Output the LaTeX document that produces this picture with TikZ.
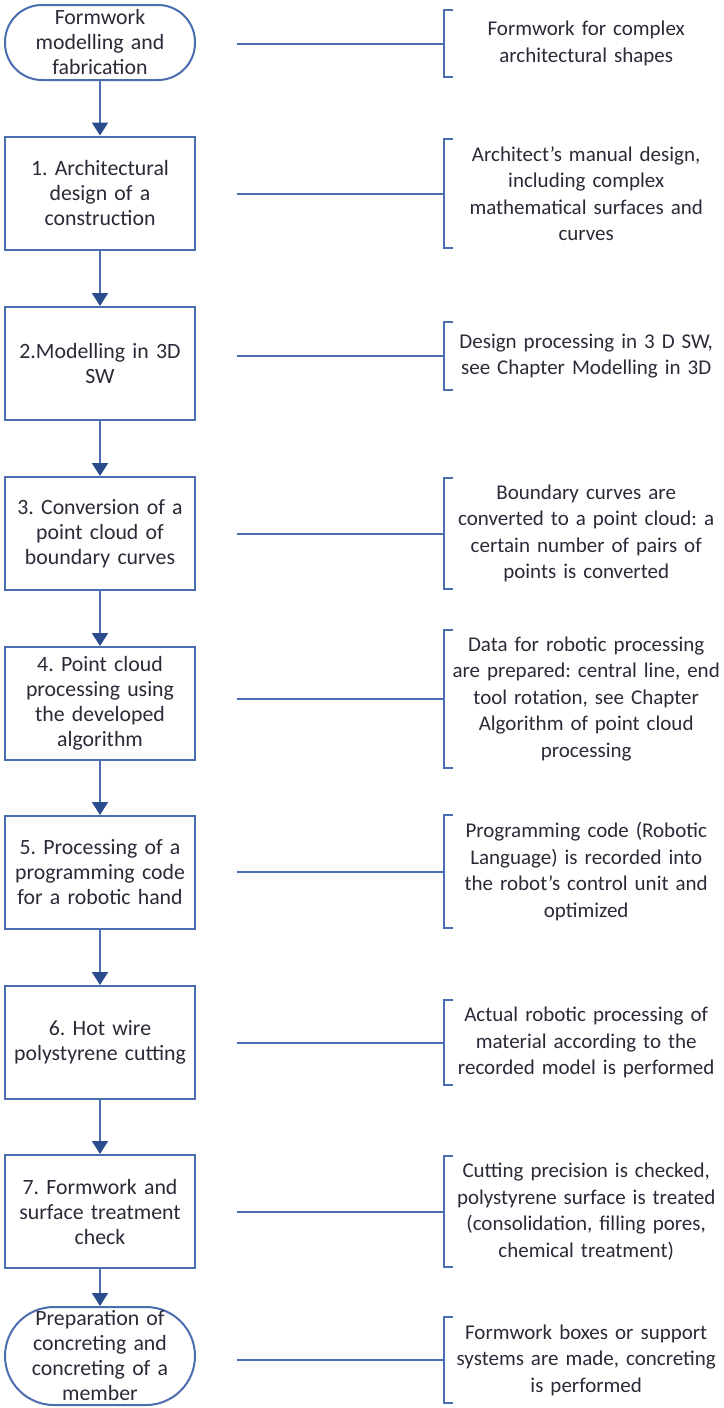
\documentclass[tikz,border=0pt]{standalone}
\usepackage{fontspec}
\setmainfont{Carlito}
\usetikzlibrary{arrows.meta}
\frenchspacing

\definecolor{boxblue}{HTML}{4A6EB0}
\definecolor{tipblue}{HTML}{2B4C8C}
\definecolor{txtgray}{HTML}{2A2A38}

\tikzset{
  stepbox/.style={draw=boxblue, line width=2pt, fill=white, minimum width=190pt,
    minimum height=113pt, inner sep=0pt, text width=184pt, align=center,
    font=\fontsize{21.8}{25}\selectfont, text=txtgray},
  termbox/.style={stepbox, rounded corners=37pt, minimum height=75pt},
  note/.style={anchor=west, inner xsep=1pt, inner ysep=7pt, minimum height=67pt,
    text width=282pt, align=center, font=\fontsize{21}{26.5}\selectfont, text=txtgray},
  flow/.style={draw=boxblue, line width=2pt, -{Triangle[width=16pt,length=13pt,color=tipblue]}},
  link/.style={draw=boxblue, line width=2pt},
}

\begin{document}
\begin{tikzpicture}[x=1pt, y=-1pt]
\useasboundingbox (0,0) rectangle (723,1408);

% process steps
\node[termbox] (start) at (100,42.5) {Formwork\\ modelling and\\ fabrication};
\node[stepbox] (b1) at (100,193) {1. Architectural\\ design of a\\ construction};
\node[stepbox] (b2) at (100,363.5) {2.Modelling in 3D\\ SW\\[-6pt]};
\node[stepbox] (b3) at (100,533.5) {3. Conversion of a\\ point cloud of\\ boundary curves};
\node[stepbox] (b4) at (100,703.5) {4. Point cloud\\ processing using\\ the developed\\ algorithm};
\node[stepbox] (b5) at (100,872.5) {5. Processing of a\\ programming code\\ for a robotic hand};
\node[stepbox] (b6) at (100,1042.5) {6. Hot wire\\ polystyrene cutting};
\node[stepbox] (b7) at (100,1211.5) {7. Formwork and\\ surface treatment\\ check};
\node[termbox, rounded corners=49pt, minimum height=98pt] (fin) at (100,1356)
  {Preparation of\\ concreting and\\ concreting of a\\ member};

% descriptions
\node[note] (n0) at (444,43.5) {Formwork for complex\\ architectural shapes};
\node[note] (n1) at (444,193.5) {Architect's manual design,\\ including complex\\ mathematical surfaces and\\ curves};
\node[note] (n2) at (444,356) {Design processing in 3 D SW,\\ see Chapter Modelling in 3D};
\node[note] (n3) at (444,533.5) {Boundary curves are\\ converted to a point cloud: a\\ certain number of pairs of\\ points is converted};
\node[note] (n4) at (444,699) {Data for robotic processing\\ are prepared: central line, end\\ tool rotation, see Chapter\\ Algorithm of point cloud\\ processing};
\node[note] (n5) at (444,871.5) {Programming code (Robotic\\ Language) is recorded into\\ the robot's control unit and\\ optimized};
\node[note] (n6) at (444,1042.5) {Actual robotic processing of\\ material according to the\\ recorded model is performed};
\node[note] (n7) at (444,1211.5) {Cutting precision is checked,\\ polystyrene surface is treated\\ (consolidation, filling pores,\\ chemical treatment)};
\node[note] (n8) at (444,1360) {Formwork boxes or support\\ systems are made, concreting\\ is performed};

% arrows
\foreach \a/\b in {start/b1, b1/b2, b2/b3, b3/b4, b4/b5, b5/b6, b6/b7, b7/fin}
  \draw[flow] (\a) -- (\b);

% brackets and links
\coordinate (gap) at (237,0);
\foreach \d in {n0,n1,n2,n3,n4,n5,n6,n7,n8} {
  \draw[link] ([xshift=9pt]\d.north west) -- (\d.north west) -- (\d.south west) -- ([xshift=9pt]\d.south west);
  \draw[link] (\d.west -| gap) -- (\d.west);
}
\end{tikzpicture}
\end{document}
